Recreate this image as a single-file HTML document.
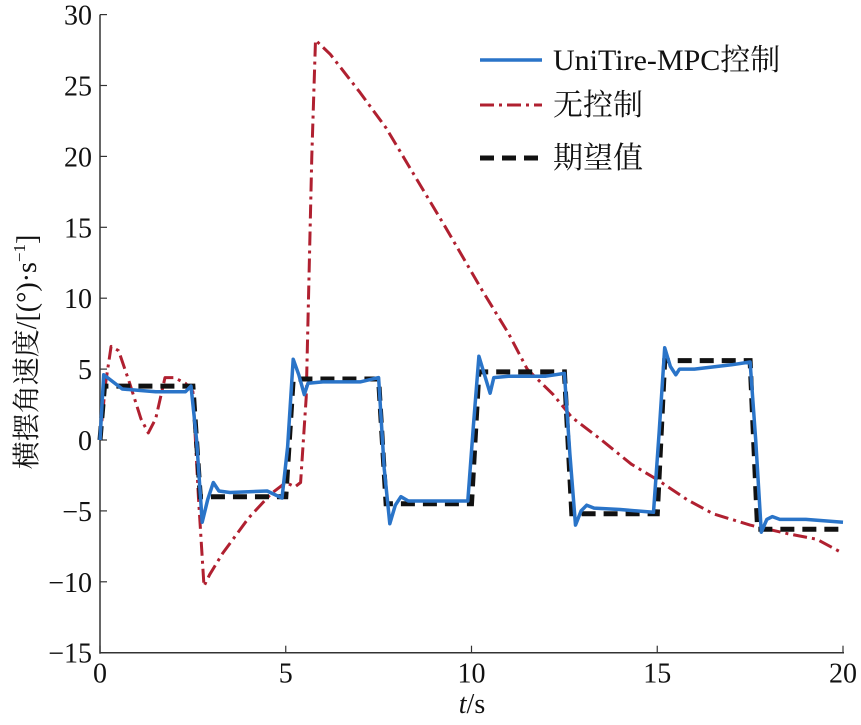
<!DOCTYPE html>
<html><head><meta charset="utf-8"><style>
body{margin:0;background:#fff;}
text{font-family:"Liberation Serif","Noto Serif CJK SC",serif;fill:#111;}
</style></head><body>
<svg id="c" width="861" height="720">
<g id="axes"></g><g id="series"></g><g id="legend"></g>
</svg>
<script>
const xTicks=[0,5,10,15,20];
const yTicks=[30,25,20,15,10,5,0,-5,-10,-15];
const desiredT=[0,0.12,2.5,2.7,5.0,5.2,7.5,7.7,10.0,10.2,12.5,12.7,15.0,15.2,17.5,17.7,20];
const desiredV=[0,3.8,3.8,-4,-4,4.3,4.3,-4.5,-4.5,4.8,4.8,-5.2,-5.2,5.6,5.6,-6.3,-6.3];
const mpcT=[0,0.1,0.25,0.6,1.5,2.3,2.45,2.6,2.75,2.9,3.05,3.2,3.5,4.5,4.9,5.05,5.2,5.35,5.5,5.6,6,7,7.5,7.65,7.8,7.95,8.1,8.3,9,9.9,10.05,10.2,10.35,10.5,10.6,11,12,12.5,12.65,12.8,12.95,13.1,13.3,14,14.9,15.05,15.2,15.35,15.5,15.6,16,17,17.5,17.65,17.8,17.95,18.1,18.3,19,20];
const mpcV=[0,4.6,4.3,3.6,3.4,3.4,3.8,0,-5.8,-4.2,-3,-3.6,-3.7,-3.6,-4.1,-0.5,5.7,4.6,3.2,4.0,4.1,4.1,4.4,-2,-5.9,-4.6,-4,-4.3,-4.3,-4.3,1,5.9,4.6,3.3,4.4,4.5,4.5,4.7,-1,-6,-5,-4.6,-4.8,-4.9,-5.1,0.5,6.5,5.2,4.6,5.0,5.0,5.3,5.5,0,-6.5,-5.6,-5.4,-5.6,-5.6,-5.8];
const noCtrlT=[0,0.15,0.3,0.5,0.8,1.1,1.3,1.5,1.75,2.0,2.3,2.5,2.65,2.8,2.95,3.3,4.0,4.6,5.0,5.25,5.4,5.55,5.7,5.8,6.2,7,7.7,8.5,9.3,10.3,11,11.5,12.2,12.7,13.5,14.3,15,15.8,16.5,17.5,18.5,19.3,20];
const noCtrlV=[0,4,6.6,6.3,4,1.5,0.5,1.5,4.4,4.4,4,3.4,-4,-10.3,-9.5,-8,-5.5,-3.8,-3,-3.3,-3,3,20,28.2,27.2,24.5,22,18.5,15,10.5,7.5,5,3.2,1.6,0,-1.7,-2.8,-4.2,-5.2,-6,-6.6,-7,-8];
const X=t=>100+t*37.15, Y=v=>440-v*14.18;
const NS="http://www.w3.org/2000/svg";
function mk(tag,attrs,parent){const e=document.createElementNS(NS,tag);for(const k in attrs)e.setAttribute(k,attrs[k]);document.getElementById(parent).appendChild(e);return e;}
let a=mk('line',{x1:X(0),y1:Y(30),x2:X(0),y2:Y(-15)+1,stroke:'#333','stroke-width':1.5},'axes');


a=mk('line',{x1:X(0),y1:Y(-15),x2:X(20)+1,y2:Y(-15),stroke:'#333','stroke-width':1.5},'axes');


yTicks.forEach(v=>{
 let l=mk('line',{x1:X(0),y1:Y(v),x2:X(0)+7,y2:Y(v),stroke:'#333','stroke-width':1.2},'axes');
 
 
 let t=mk('text',{x:X(0)-8,y:Y(v)+10,'text-anchor':'end','font-size':28},'axes');t.textContent=v<0?'\u2212'+(-v):v;
 
 
});
xTicks.forEach(v=>{
 let l=mk('line',{x1:X(v),y1:Y(-15),x2:X(v),y2:Y(-15)-7,stroke:'#333','stroke-width':1.2},'axes');
 
 
 let t=mk('text',{x:X(v),y:Y(-15)+30,'text-anchor':'middle','font-size':28},'axes');t.textContent=v;
 
 
});
let xt=mk('text',{x:472,y:713,'text-anchor':'middle','font-size':28},'axes');
xt.innerHTML='<tspan font-style="italic">t</tspan>/s';


let yt=mk('text',{x:0,y:0,'text-anchor':'middle','font-size':28,transform:'translate(36,352) rotate(-90)'},'axes');
yt.innerHTML='横摆角速度/[(°)·s<tspan dy="-11" font-size="17">−1</tspan><tspan dy="11">]</tspan>';


function pts(T,V){return T.map((t,i)=>X(t).toFixed(1)+','+Y(V[i]).toFixed(1)).join(' ');}
let p=mk('polyline',{points:pts(noCtrlT,noCtrlV),fill:'none',stroke:'#b02030','stroke-width':3,'stroke-dasharray':'14,5,3,5','stroke-linejoin':'round'},'series');


p=mk('polyline',{points:pts(desiredT,desiredV),fill:'none',stroke:'#111','stroke-width':5,'stroke-dasharray':'14,8'},'series');


p=mk('polyline',{points:pts(mpcT,mpcV),fill:'none',stroke:'#2a74c8','stroke-width':3.5,'stroke-linejoin':'round'},'series');


const leg=[['UniTire-MPC控制','#2a74c8',3.5,'none',60],['无控制','#b02030',3,'14,5,3,5',105],['期望值','#111',5,'14,8',158]];
leg.forEach(L=>{
 let l=mk('line',{x1:480,y1:L[4],x2:542,y2:L[4],stroke:L[1],'stroke-width':L[2],'stroke-dasharray':L[3]},'legend');
 
 
 let t=mk('text',{x:553,y:L[4]+10,'font-size':30},'legend');t.textContent=L[0];
 
 
});
</script>
</body></html>
